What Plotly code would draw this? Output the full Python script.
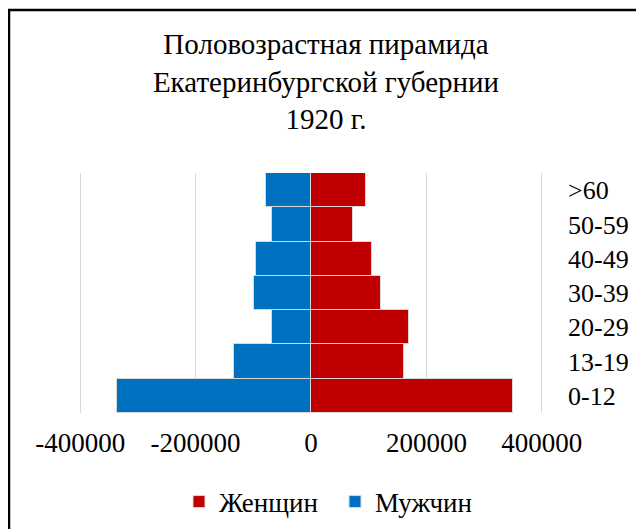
import plotly.graph_objects as go

categories = ["0-12", "13-19", "20-29", "30-39", "40-49", "50-59", ">60"]
men = [-337000, -133000, -68000, -98000, -96000, -67000, -78000]
women = [350000, 162000, 170000, 122000, 105000, 72000, 95000]
x_ticks = [-400000, -200000, 0, 200000, 400000]

FONT = "Liberation Serif"

fig = go.Figure()
fig.add_trace(go.Bar(
    y=categories, x=men, orientation="h", name="Мужчин",
    marker=dict(color="#0070C0", line=dict(color="#d9d9d9", width=1)),
    legendrank=2,
))
fig.add_trace(go.Bar(
    y=categories, x=women, orientation="h", name="Женщин",
    marker=dict(color="#C00000", line=dict(color="#d9d9d9", width=1)),
    legendrank=1,
))

W, H = 636, 521
L, R, T, B = 71, 101, 165, 116
pw, ph = W - L - R, H - T - B

def px(xp):
    return (xp - L) / pw

def py(yp):
    return (H - B - yp) / ph

fig.update_layout(
    width=W, height=H,
    margin=dict(l=L, r=R, t=T, b=B, autoexpand=False),
    barmode="relative", bargap=0,
    plot_bgcolor="white", paper_bgcolor="white",
    font=dict(family=FONT, color="#000000", size=26),
    title=dict(
        text="Половозрастная пирамида<br>Екатеринбургской губернии<br>1920 г.",
        font=dict(family=FONT, size=29, color="#000000"),
        x=0.5, xanchor="center", y=1 - 46 / H, yanchor="middle",
    ),
    xaxis=dict(
        range=[-402000, 402000], tickvals=x_ticks,
        ticktext=[str(v) for v in x_ticks],
        showgrid=True, gridcolor="#d9d9d9", gridwidth=1,
        zeroline=False, showline=False, ticks="",
        ticklabelstandoff=11, automargin=False,
        tickfont=dict(family=FONT, size=27),
    ),
    yaxis=dict(
        side="right", showgrid=False, zeroline=False, showline=False,
        ticks="", ticklabelstandoff=24, automargin=False,
        tickfont=dict(family=FONT, size=26),
    ),
    showlegend=True,
    legend=dict(
        orientation="h", x=px(171), xanchor="left", y=py(494), yanchor="middle",
        font=dict(family=FONT, size=27), itemwidth=30, entrywidth=111,
        traceorder="normal",
    ),
    shapes=[
        dict(type="line", xref="paper", yref="paper",
             x0=px(0), x1=px(W + 5), y0=py(2), y1=py(2),
             line=dict(color="black", width=2.5)),
        dict(type="line", xref="paper", yref="paper",
             x0=px(1), x1=px(1), y0=py(1), y1=py(H + 5),
             line=dict(color="black", width=2.5)),
    ],
)

fig.write_html("out.html")
